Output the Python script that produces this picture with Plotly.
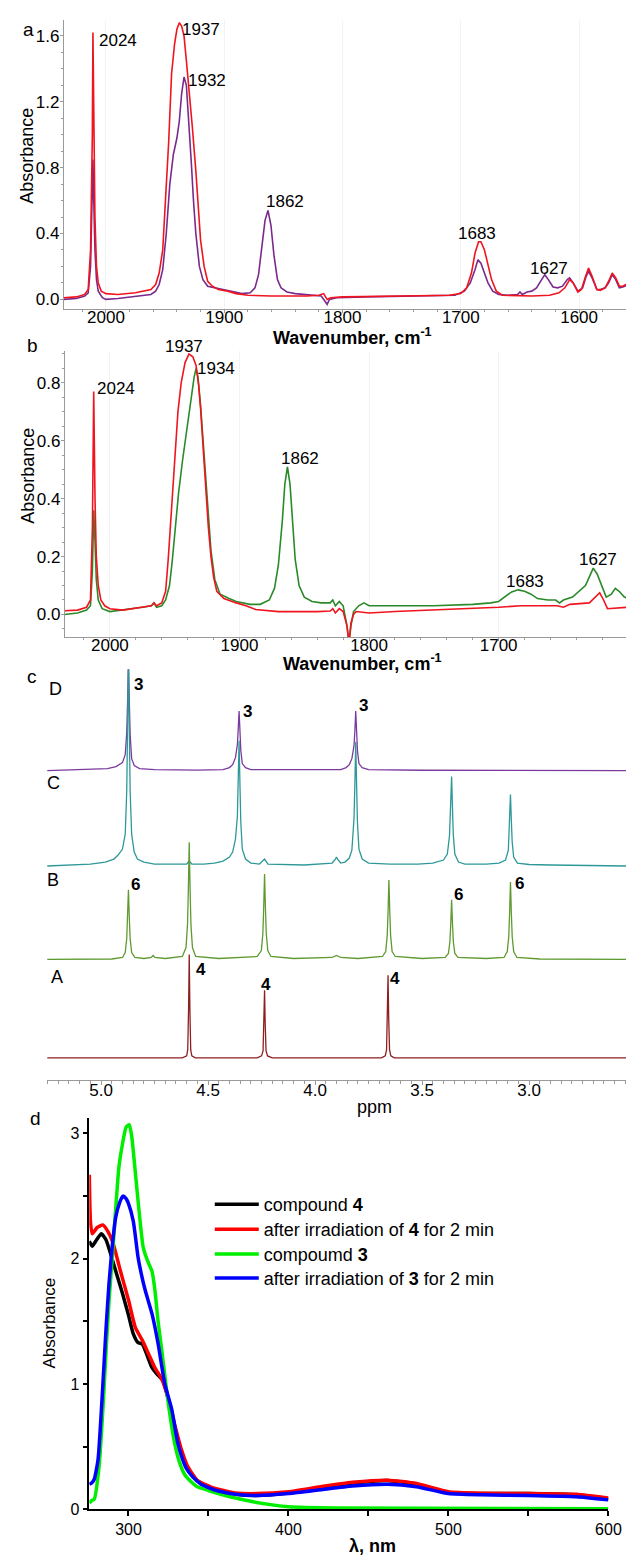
import plotly.graph_objects as go

W, H = 634, 1557
FONT = "Arial, Liberation Sans, sans-serif"

# ---------------- Panel a (IR) ----------------
a_red_x = [2036, 2025, 2018, 2015, 2013, 2011.5, 2011, 2010.3, 2009.3, 2008, 2006.5, 2004, 2000, 1990, 1975, 1962,
           1958, 1955, 1952, 1950, 1947, 1944.5, 1942, 1940, 1938, 1936, 1934, 1932, 1930, 1927, 1924, 1921.5,
           1920, 1917, 1914, 1910, 1905, 1897, 1890, 1880, 1860, 1830, 1820, 1816, 1813, 1810, 1800, 1750, 1710,
           1700, 1695, 1691, 1688, 1685, 1683, 1680, 1677, 1674, 1670, 1665, 1640, 1625, 1617, 1612, 1608, 1605,
           1601, 1598, 1595, 1592, 1589, 1585, 1582, 1578, 1575, 1572, 1569, 1566, 1563, 1558]
a_red_y = [0.01, 0.015, 0.03, 0.06, 0.3, 1.0, 1.62, 1.0, 0.5, 0.2, 0.1, 0.05, 0.035, 0.03, 0.04, 0.06,
           0.09, 0.16, 0.3, 0.56, 0.95, 1.37, 1.55, 1.64, 1.68, 1.66, 1.6, 1.45, 1.3, 1.05, 0.78, 0.5,
           0.36, 0.2, 0.11, 0.08, 0.06, 0.05, 0.035, 0.025, 0.02, 0.02, 0.025, 0.035, 0.0, 0.01, 0.015, 0.02, 0.025,
           0.035, 0.07, 0.16, 0.28, 0.35, 0.35, 0.3, 0.2, 0.12, 0.05, 0.025, 0.02, 0.025, 0.04, 0.07, 0.12, 0.1,
           0.045, 0.06, 0.13, 0.19, 0.14, 0.06, 0.055, 0.07, 0.11, 0.16, 0.13, 0.08, 0.08, 0.1]

a_pur_x = [2036, 2025, 2018, 2015, 2013, 2011.5, 2011, 2010.3, 2009.3, 2008, 2006.5, 2003, 2000, 1990, 1975, 1962,
           1958, 1955, 1952, 1949, 1946, 1943, 1940, 1938, 1936, 1934, 1932, 1930, 1928, 1926, 1924, 1921,
           1918, 1914, 1908, 1900, 1892, 1885, 1878, 1874, 1871, 1868, 1865.5, 1863, 1860.5, 1858, 1855, 1852,
           1847, 1840, 1825, 1818, 1815, 1813, 1811, 1805, 1780, 1740, 1705, 1697, 1692, 1688, 1685.5, 1683,
           1680, 1677, 1673, 1668, 1660, 1652, 1650, 1648, 1644, 1640, 1636, 1632, 1629, 1626, 1622, 1618,
           1614, 1610, 1608, 1605, 1601, 1597, 1594, 1592, 1589, 1585, 1582, 1578, 1575, 1572, 1569, 1566,
           1563, 1558]
a_pur_y = [0.0, 0.005, 0.02, 0.04, 0.2, 0.6, 0.85, 0.6, 0.3, 0.12, 0.05, 0.01, 0.0, 0.005, 0.02, 0.03,
           0.05, 0.09, 0.18, 0.4, 0.7, 0.88, 0.98, 1.08, 1.25, 1.35, 1.3, 1.1, 0.85, 0.6, 0.4, 0.2,
           0.12, 0.08, 0.07, 0.06, 0.045, 0.035, 0.04, 0.07, 0.15, 0.32, 0.48, 0.54, 0.45, 0.27, 0.12, 0.07,
           0.045, 0.035, 0.025, 0.02, -0.01, -0.03, 0.0, 0.01, 0.015, 0.02, 0.025, 0.05, 0.1, 0.18, 0.24, 0.22,
           0.16, 0.1, 0.05, 0.03, 0.025, 0.03, 0.045, 0.03, 0.045, 0.05, 0.07, 0.12, 0.15, 0.12, 0.075, 0.07,
           0.08, 0.12, 0.13, 0.1, 0.05, 0.07, 0.14, 0.17, 0.13, 0.06, 0.06, 0.07, 0.1, 0.15, 0.12, 0.07,
           0.075, 0.09]

a_labels = ["2024", "1937", "1932", "1862", "1683", "1627"]
a_label_px = [(112, 33), (197, 22), (203, 73), (283, 195), (479, 227), (552, 262)]

# ---------------- Panel b (IR) ----------------
b_red_x = [2035, 2025, 2018, 2015, 2013.5, 2012.5, 2011.5, 2010.5, 2009, 2007, 2004, 2000, 1990, 1975, 1968, 1966,
           1964, 1960, 1957, 1955, 1952.5, 1950, 1947.5, 1945, 1942, 1939, 1936, 1933.5, 1931.5, 1930, 1928, 1926,
           1924, 1922, 1920, 1917.5, 1912, 1902.5, 1895, 1887.5, 1870, 1840, 1830, 1828, 1826, 1823, 1820, 1817,
           1815.5, 1814, 1812, 1810, 1800, 1780, 1750, 1725, 1700, 1683, 1670, 1655, 1650, 1645, 1630, 1625,
           1622, 1619, 1616, 1600]
b_red_y = [0.013, 0.015, 0.025, 0.05, 0.3, 0.77, 0.4, 0.2, 0.1, 0.05, 0.03, 0.02, 0.015, 0.025, 0.03, 0.04,
           0.03, 0.04, 0.08, 0.19, 0.36, 0.54, 0.7, 0.8, 0.87, 0.9, 0.89, 0.86, 0.79, 0.71, 0.57, 0.42,
           0.3, 0.2, 0.13, 0.08, 0.055, 0.04, 0.03, 0.017, 0.01, 0.01, 0.012, 0.02, 0.005, 0.02, 0.01, -0.04,
           -0.1, -0.03, 0.0, 0.01, 0.005, 0.01, 0.015, 0.02, 0.025, 0.03, 0.03, 0.03, 0.025, 0.035, 0.04, 0.06,
           0.075, 0.05, 0.02, 0.025]

b_grn_x = [2035, 2025, 2018, 2015, 2013.5, 2012.5, 2011.5, 2010.5, 2009, 2006, 2000, 1990, 1975, 1968, 1966, 1964,
           1960, 1957, 1954, 1952, 1950, 1947, 1944, 1941, 1939, 1937, 1935, 1933.5, 1932, 1930, 1928, 1926,
           1924, 1922, 1919, 1915, 1908, 1902.5, 1892, 1884, 1877, 1873, 1870, 1867, 1865, 1863, 1861, 1859,
           1857, 1854, 1850, 1844, 1837, 1830, 1828, 1826, 1823, 1820, 1817, 1815.5, 1814, 1812, 1808, 1804,
           1800, 1780, 1750, 1720, 1706, 1700, 1695.5, 1690, 1685, 1680, 1675, 1670, 1662, 1656, 1653, 1650,
           1643, 1638, 1633, 1630, 1627, 1624, 1620, 1617, 1613, 1610, 1607, 1603, 1600]
b_grn_y = [0.0, 0.005, 0.015, 0.03, 0.15, 0.36, 0.25, 0.12, 0.05, 0.02, 0.01, 0.015, 0.025, 0.03, 0.04, 0.025,
           0.03, 0.05, 0.1, 0.18, 0.28, 0.42, 0.53, 0.63, 0.7, 0.75, 0.82, 0.85, 0.82, 0.72, 0.6, 0.46,
           0.33, 0.22, 0.12, 0.07, 0.055, 0.045, 0.035, 0.035, 0.05, 0.09, 0.17, 0.32, 0.45, 0.51, 0.45, 0.32,
           0.19, 0.1, 0.06, 0.045, 0.04, 0.04, 0.05, 0.03, 0.045, 0.03, -0.04, -0.1, -0.04, 0.01, 0.03, 0.04,
           0.03, 0.03, 0.03, 0.035, 0.04, 0.045, 0.06, 0.078, 0.085, 0.08, 0.07, 0.055, 0.05, 0.05, 0.04, 0.05,
           0.06, 0.08, 0.1, 0.13, 0.16, 0.14, 0.09, 0.06, 0.07, 0.09, 0.08, 0.06, 0.055]

b_labels = ["2024", "1937", "1934", "1862", "1683", "1627"]
b_label_px = [(110, 383), (180, 340), (212, 363), (298, 453), (528, 577), (602, 555)]

# ---------------- Panel c (1H NMR, stacked) ----------------
nmr_names = ["D", "C", "B", "A"]
nmr_offsets = [311, 215, 121, 22]
nmr_colors = ["#7b3a9e", "#2e9898", "#5f9a30", "#8e1f1f"]

D_ppm = [5.252, 5.05, 4.97, 4.93, 4.90, 4.887, 4.880, 4.876, 4.872, 4.868, 4.864, 4.857, 4.845, 4.82, 4.75, 4.55,
         4.43, 4.40, 4.385, 4.372, 4.363, 4.359, 4.355, 4.351, 4.347, 4.340, 4.325, 4.30, 4.0,
         3.88, 3.855, 3.84, 3.828, 3.818, 3.814, 3.810, 3.806, 3.802, 3.795, 3.78, 3.75, 3.5, 2.533]
D_int = [0, 1, 2, 4, 8, 16, 38, 70, 110, 70, 36, 12, 5, 2, 1, 0.5,
         1, 3, 6, 13, 26, 42, 60, 40, 20, 7, 3, 1, 0.5,
         1, 3, 6, 12, 25, 40, 60, 40, 20, 7, 3, 1, 0.3, 0]

C_ppm = [5.252, 5.05, 4.98, 4.94, 4.92, 4.90, 4.887, 4.880, 4.876, 4.872, 4.868, 4.864, 4.857, 4.845, 4.83, 4.80,
         4.75, 4.65, 4.60, 4.588, 4.576, 4.52, 4.47, 4.43, 4.40, 4.385, 4.372, 4.363, 4.359, 4.355, 4.351, 4.347,
         4.340, 4.325, 4.30, 4.26, 4.236, 4.22, 4.05, 3.95, 3.92, 3.905, 3.90, 3.895, 3.88, 3.86, 3.84, 3.828,
         3.818, 3.814, 3.810, 3.806, 3.802, 3.795, 3.78, 3.75, 3.65, 3.52, 3.45, 3.40, 3.382, 3.372, 3.366, 3.362,
         3.358, 3.354, 3.347, 3.33, 3.30, 3.20, 3.14, 3.11, 3.097, 3.091, 3.087, 3.083, 3.079, 3.072, 3.055, 3.00,
         2.90, 2.533]
C_int = [0, 2, 4, 7, 11, 17, 32, 75, 140, 210, 140, 75, 32, 14, 7, 4,
         2, 1.5, 2, 5, 2, 2, 3, 5, 9, 14, 27, 50, 82, 126, 82, 44,
         17, 7, 3, 2, 7, 2, 1, 2, 3, 7, 9, 7, 3, 4, 8, 16,
         48, 82, 125, 82, 44, 17, 7, 3, 2, 2, 3, 6, 12, 30, 58, 90,
         58, 31, 12, 4, 2, 2, 3, 6, 16, 46, 72, 46, 24, 9, 3, 1.5,
         1, 0]

B_ppm = [5.252, 4.95, 4.90, 4.887, 4.880, 4.876, 4.872, 4.868, 4.864, 4.857, 4.842, 4.80, 4.765, 4.757, 4.749, 4.70,
         4.62, 4.603, 4.596, 4.592, 4.588, 4.584, 4.580, 4.573, 4.558, 4.45, 4.27, 4.251, 4.244, 4.240, 4.236, 4.232,
         4.228, 4.221, 4.206, 4.10, 3.92, 3.90, 3.88, 3.80, 3.685, 3.670, 3.663, 3.659, 3.655, 3.651, 3.647, 3.640,
         3.625, 3.50, 3.392, 3.377, 3.370, 3.366, 3.362, 3.358, 3.354, 3.347, 3.332, 3.20, 3.117, 3.102, 3.095, 3.091,
         3.087, 3.083, 3.079, 3.072, 3.057, 2.95, 2.533]
B_int = [0, 0.5, 2, 7, 21, 42, 70, 42, 21, 7, 2, 1, 2, 4, 2, 1,
         3, 12, 35, 71, 118, 71, 35, 12, 3, 1, 3, 9, 26, 52, 86, 52,
         26, 9, 3, 1, 2, 4, 2, 1, 3, 8, 24, 48, 80, 48, 24, 8,
         3, 1, 2, 6, 18, 36, 60, 36, 18, 6, 2, 1, 2, 8, 23, 47,
         78, 47, 23, 8, 2, 0.5, 0]

A_ppm = [5.252, 4.62, 4.60, 4.595, 4.591, 4.588, 4.585, 4.581, 4.576, 4.56, 4.27, 4.25, 4.243, 4.239, 4.236, 4.233,
         4.229, 4.222, 4.20, 3.69, 3.672, 3.666, 3.662, 3.659, 3.656, 3.652, 3.646, 3.63, 2.533]
A_int = [0, 0, 2, 8, 50, 104, 50, 8, 2, 0, 0, 2, 7, 34, 68, 34,
         7, 2, 0, 0, 2, 8, 40, 83, 40, 8, 2, 0, 0]

nmr_ppm = [D_ppm, C_ppm, B_ppm, A_ppm]
nmr_int = [D_int, C_int, B_int, A_int]

c_labels = ["3", "3", "3", "6", "6", "6", "4", "4", "4"]
c_label_px = [(133, 680), (245, 708), (363, 702), (130, 882), (460, 892), (522, 881), (197, 967), (263, 982), (395, 976)]
c_trace_label_px = [(49, 685), (46, 780), (46, 877), (50, 975)]

# ---------------- Panel d (UV-vis) ----------------
uv_names = ["compound <b>4</b>", "after irradiation of <b>4</b> for 2 min",
            "compoumd <b>3</b>", "after irradiation of <b>3</b> for 2 min"]
uv_colors = ["#000000", "#ff0000", "#00ee00", "#0000ff"]

uv_black_x = [275.5, 277.3, 280, 283, 286, 290.2, 293, 296.3, 300, 303, 306, 308.6, 311.6, 314.7, 318.4, 321.4,
              324.5, 328.8, 333, 336.7, 342.9, 351.4, 367.4, 380, 400, 420, 440, 462, 480, 500, 520, 550, 580, 600]
uv_black_y = [2.14, 2.10, 2.15, 2.20, 2.15, 1.98, 1.86, 1.72, 1.55, 1.40, 1.33, 1.32, 1.23, 1.13, 1.07, 1.03,
              0.90, 0.66, 0.46, 0.33, 0.23, 0.17, 0.12, 0.11, 0.13, 0.17, 0.21, 0.23, 0.2, 0.135, 0.125, 0.125, 0.115, 0.085]

uv_red_x = [275.5, 276.2, 277.3, 280.5, 284, 287, 290.2, 295, 300, 304.3, 308.6, 312.2, 316.5, 320.8, 324.5, 328.8,
            333, 336.7, 343, 352, 367, 380, 400, 420, 440, 462, 480, 500, 520, 550, 580, 600]
uv_red_y = [2.67, 2.3, 2.2, 2.25, 2.27, 2.22, 2.13, 1.90, 1.67, 1.45, 1.35, 1.25, 1.13, 1.04, 0.90, 0.68,
            0.48, 0.35, 0.23, 0.175, 0.13, 0.125, 0.14, 0.18, 0.215, 0.232, 0.205, 0.14, 0.128, 0.125, 0.12, 0.09]

uv_green_x = [275.5, 277, 278.6, 281.6, 284, 286, 288, 290.2, 292, 294, 296.3, 298.5, 300.5, 302, 303, 306,
              309.2, 312, 314.7, 316.5, 318.5, 320.8, 324.5, 328.8, 332, 335, 340, 343, 350, 357.6, 367, 377.8,
              390, 400, 430, 600]
uv_green_y = [0.05, 0.07, 0.08, 0.34, 0.8, 1.27, 1.7, 2.06, 2.4, 2.73, 2.92, 3.05, 3.07, 2.98, 2.86, 2.46,
              2.09, 1.98, 1.9, 1.75, 1.5, 1.27, 0.88, 0.53, 0.37, 0.28, 0.21, 0.18, 0.15, 0.12, 0.09, 0.06,
              0.035, 0.02, 0.01, 0.005]

uv_blue_x = [275.5, 277, 278.6, 281, 284, 286, 287.8, 290, 292, 294.5, 296.5, 298.5, 300, 303, 306, 308,
             310.4, 314.7, 318.4, 322.7, 327, 330.6, 333, 336, 340, 345.3, 355, 367, 380, 400, 420, 440,
             462, 480, 500, 520, 550, 580, 600]
uv_blue_y = [0.2, 0.21, 0.24, 0.4, 1.0, 1.45, 1.8, 2.12, 2.33, 2.45, 2.5, 2.48, 2.44, 2.3, 2.01, 1.88,
             1.75, 1.56, 1.33, 1.0, 0.8, 0.54, 0.43, 0.33, 0.26, 0.2, 0.15, 0.12, 0.11, 0.125, 0.155, 0.185,
             0.2, 0.18, 0.125, 0.115, 0.11, 0.1, 0.075]

uv_x = [uv_black_x, uv_red_x, uv_green_x, uv_blue_x]
uv_y = [uv_black_y, uv_red_y, uv_green_y, uv_blue_y]
legend_row_py = [1203, 1228, 1253, 1277]


def px(x):
    return x / W


def py(y):
    return 1 - y / H


fig = go.Figure()

RED = "#f0141e"
PURPLE = "#7a2a8c"
GREEN = "#2a8a2a"

# panel a
fig.add_trace(go.Scatter(x=a_pur_x, y=a_pur_y, mode="lines", line=dict(color=PURPLE, width=1.6),
                         xaxis="x", yaxis="y", showlegend=False))
fig.add_trace(go.Scatter(x=a_red_x, y=a_red_y, mode="lines", line=dict(color=RED, width=1.6),
                         xaxis="x", yaxis="y", showlegend=False))
# panel b
fig.add_trace(go.Scatter(x=b_grn_x, y=b_grn_y, mode="lines", line=dict(color=GREEN, width=1.6),
                         xaxis="x2", yaxis="y2", showlegend=False))
fig.add_trace(go.Scatter(x=b_red_x, y=b_red_y, mode="lines", line=dict(color=RED, width=1.6),
                         xaxis="x2", yaxis="y2", showlegend=False))
# panel c
for ppm, inten, off, col in zip(nmr_ppm, nmr_int, nmr_offsets, nmr_colors):
    fig.add_trace(go.Scatter(x=ppm, y=[v + off for v in inten], mode="lines",
                             line=dict(color=col, width=1.3), xaxis="x3", yaxis="y3", showlegend=False))
# panel d
legend_ids = ["legend", "legend2", "legend3", "legend4"]
for xs, ys, name, col, lid in zip(uv_x, uv_y, uv_names, uv_colors, legend_ids):
    fig.add_trace(go.Scatter(x=xs, y=ys, mode="lines", name=name, legend=lid,
                             line=dict(color=col, width=3.5, shape="spline", smoothing=0.5),
                             xaxis="x4", yaxis="y4", showlegend=True))

tickfont = dict(family=FONT, size=17, color="black")
grey = "#9a9a9a"

ir_x_common = dict(showline=True, linecolor=grey, linewidth=1, ticks="outside", ticklen=3, tickcolor=grey,
                   tickfont=tickfont, showgrid=True, gridcolor="#f3f3f3", zeroline=False,
                   minor=dict(dtick=20, ticks="outside", ticklen=2, tickcolor=grey, showgrid=False),
                   tickvals=[2000, 1900, 1800, 1700, 1600], ticklabelstandoff=-11)
ir_y_common = dict(showline=True, linecolor=grey, linewidth=1, ticks="outside", ticklen=3, tickcolor=grey,
                   tickfont=tickfont, showgrid=False, zeroline=False, tickformat=".1f", ticklabelstandoff=-3)

legend_layout = {}
for lid, rp in zip(legend_ids, legend_row_py):
    legend_layout[lid] = dict(x=px(206), y=py(rp - 18), xanchor="left", yanchor="top", bgcolor="rgba(0,0,0,0)",
                              font=dict(family=FONT, size=18, color="black"), itemwidth=44)

fig.update_layout(
    width=W, height=H, margin=dict(l=0, r=0, t=0, b=0),
    paper_bgcolor="white", plot_bgcolor="white",
    font=dict(family=FONT, color="black"),
    xaxis=dict(domain=[px(57), 1], range=[2035.6, 1557.8], anchor="y", **ir_x_common),
    yaxis=dict(domain=[py(303), py(12)], range=[-0.06, 1.697], anchor="x",
               tickvals=[0, 0.4, 0.8, 1.2, 1.6],
               minor=dict(dtick=0.1, ticks="outside", ticklen=2, tickcolor=grey), **ir_y_common),
    xaxis2=dict(domain=[px(58), 1], range=[2034.8, 1599.4], anchor="y2", **ir_x_common),
    yaxis2=dict(domain=[py(633), py(345)], range=[-0.079, 0.91], anchor="x2",
                tickvals=[0, 0.2, 0.4, 0.6, 0.8],
                minor=dict(dtick=0.05, ticks="outside", ticklen=2, tickcolor=grey), **ir_y_common),
    xaxis3=dict(domain=[px(40), 1], range=[5.2517, 2.5332], anchor="y3", showline=True, linecolor=grey,
                ticks="outside", ticklen=4, tickcolor=grey, tickfont=tickfont, showgrid=False, zeroline=False,
                tickvals=[5.0, 4.5, 4.0, 3.5, 3.0], tickformat=".1f", ticklabelstandoff=-9,
                minor=dict(dtick=0.05, ticks="outside", ticklen=3, tickcolor=grey)),
    yaxis3=dict(domain=[py(1078), py(665)], range=[0, 413], anchor="x3", visible=False),
    xaxis4=dict(domain=[px(83), px(613)], range=[275.5, 600], anchor="y4", showline=True, linecolor="black",
                linewidth=1.5, ticks="outside", ticklen=5, tickcolor="black", tickwidth=1.5,
                tickfont=dict(family=FONT, size=16, color="black"), showgrid=False, zeroline=False,
                tickvals=[300, 400, 500, 600],
                minor=dict(tickvals=[350, 450, 550], ticks="outside", ticklen=5, tickcolor="black", tickwidth=1.5)),
    yaxis4=dict(domain=[py(1510), py(1116)], range=[0, 3.127], anchor="x4", showline=True, linecolor="black",
                linewidth=1.5, ticks="outside", ticklen=5, tickcolor="black", tickwidth=1.5,
                tickfont=dict(family=FONT, size=16, color="black"), showgrid=False, zeroline=False,
                tickvals=[0, 1, 2, 3],
                minor=dict(tickvals=[0.5, 1.5, 2.5], ticks="outside", ticklen=5, tickcolor="black", tickwidth=1.5)),
    **legend_layout,
)

ann = []


def text(x, y, s, size=17, bold=False, angle=0, xanchor="center"):
    ann.append(dict(x=px(x), y=py(y), xref="paper", yref="paper", text=(f"<b>{s}</b>" if bold else s),
                    showarrow=False, textangle=angle, xanchor=xanchor, yanchor="middle",
                    font=dict(family=FONT, size=size, color="black")))


# panel letters
text(21, 22, "a", 19)
text(25, 339, "b", 19)
text(24, 672, "c", 19)
text(28, 1117, "d", 19)

# axis titles
text(20, 149, "Absorbance", 18, angle=-90)
text(21, 471, "Absorbance", 18, angle=-90)
text(352, 330, "Wavenumber, cm<sup>-1</sup>", 18, bold=True)
text(362, 658, "Wavenumber, cm<sup>-1</sup>", 18, bold=True)
text(374, 1105, "ppm", 18)
text(42, 1323, "Absorbance", 17, angle=-90)
text(372, 1547, "λ, nm", 18, bold=True)

for s, (x, y) in zip(a_labels, a_label_px):
    text(x, y, s, 17)
for s, (x, y) in zip(b_labels, b_label_px):
    text(x, y, s, 17)
for s, (x, y) in zip(c_labels, c_label_px):
    text(x, y, s, 17, bold=True)
for s, (x, y) in zip(nmr_names, c_trace_label_px):
    text(x, y, s, 18)

fig.update_layout(annotations=ann)
fig.write_html("out.html")
